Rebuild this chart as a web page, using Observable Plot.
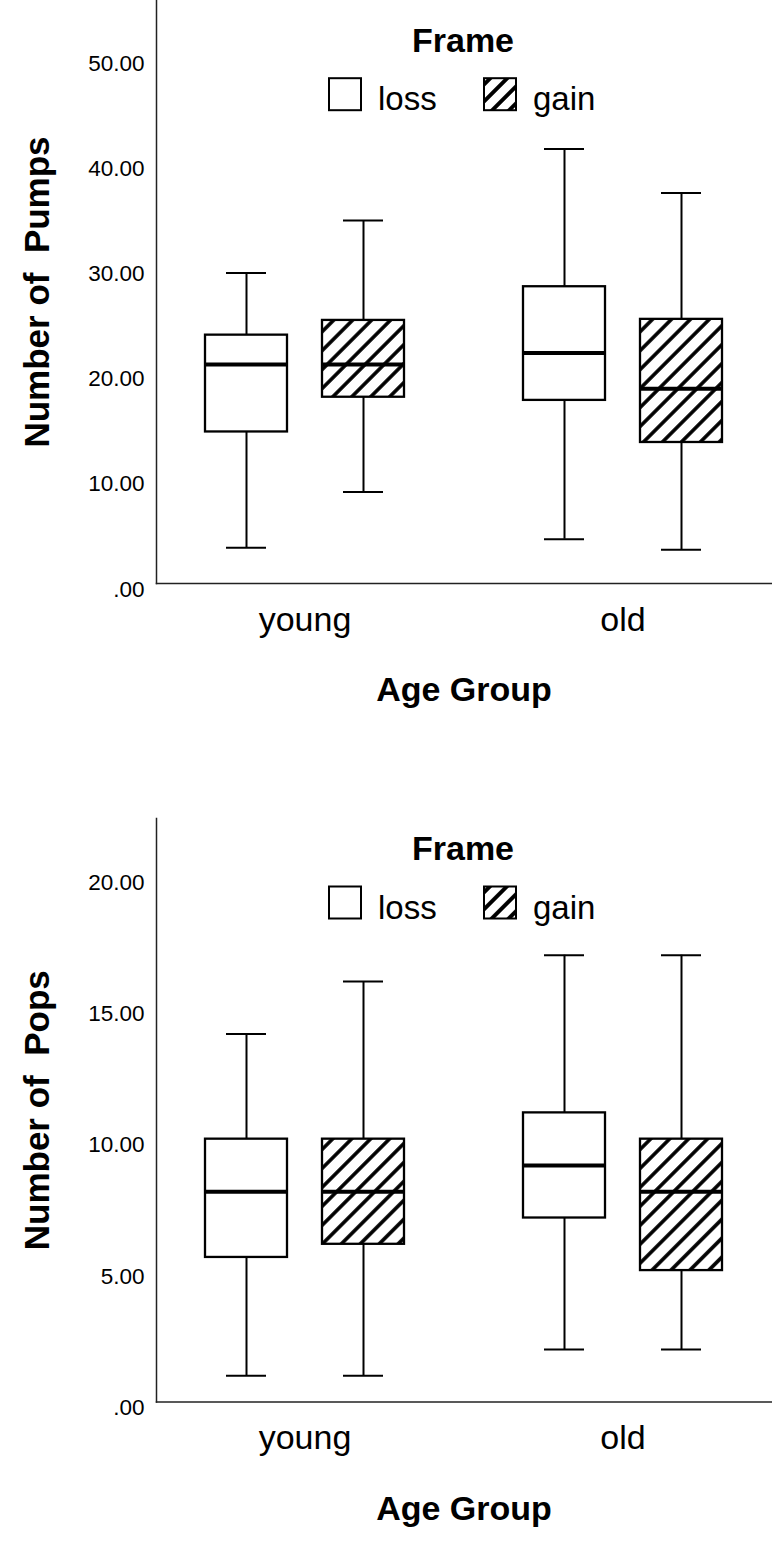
<!DOCTYPE html>
<html>
<head>
<meta charset="utf-8">
<script src="https://cdn.jsdelivr.net/npm/d3@7"></script>
<script src="https://cdn.jsdelivr.net/npm/@observablehq/plot@0.6"></script>
<style>
  body { margin: 0; background: #ffffff; font-family: "Liberation Sans", Arial, sans-serif; }
  .chart { position: relative; width: 772px; }
  .chart svg { display: block; }
  svg text { white-space: pre; }
  .legend { position: absolute; left: 0; top: 0; pointer-events: none; }
</style>
</head>
<body>
<div id="c1" class="chart"></div>
<div id="c2" class="chart"></div>
<script>
// ---------- data ----------
const ageGroups = ["young", "old"];
const frames = ["loss", "gain"];
const boxAge   = ["young", "young", "old", "old"];
const boxFrame = ["loss", "gain", "loss", "gain"];

// Number of Pumps
const pumpsLow    = [3.4, 8.7, 4.2, 3.2];
const pumpsQ1     = [14.4, 17.7, 17.4, 13.4];
const pumpsMedian = [20.8, 20.8, 21.9, 18.5];
const pumpsQ3     = [23.6, 25.0, 28.2, 25.1];
const pumpsHigh   = [29.5, 34.5, 41.3, 37.1];
const pumpsTicks  = [0, 10, 20, 30, 40, 50];

// Number of Pops
const popsLow    = [1, 1, 2, 2];
const popsQ1     = [5.5, 6, 7, 5];
const popsMedian = [8, 8, 9, 8];
const popsQ3     = [10, 10, 11, 10];
const popsHigh   = [14, 16, 17, 17];
const popsTicks  = [0, 5, 10, 15, 20];

const FONT = "'Liberation Sans', Arial, Helvetica, sans-serif";
const NS = "http://www.w3.org/2000/svg";

function rowsOf(low, q1, med, q3, high) {
  return boxAge.map((a, i) => ({age: a, frame: boxFrame[i], low: low[i], q1: q1[i], median: med[i], q3: q3[i], high: high[i]}));
}

function addHatch(svg, id, size, sw) {
  const defs = document.createElementNS(NS, "defs");
  const p = document.createElementNS(NS, "pattern");
  p.setAttribute("id", id);
  p.setAttribute("patternUnits", "userSpaceOnUse");
  p.setAttribute("width", size);
  p.setAttribute("height", size);
  p.setAttribute("patternTransform", "rotate(45)");
  const r = document.createElementNS(NS, "rect");
  r.setAttribute("width", size); r.setAttribute("height", size); r.setAttribute("fill", "white");
  const l = document.createElementNS(NS, "line");
  l.setAttribute("x1", size / 2); l.setAttribute("x2", size / 2);
  l.setAttribute("y1", -1); l.setAttribute("y2", size + 1);
  l.setAttribute("stroke", "black"); l.setAttribute("stroke-width", sw);
  p.appendChild(r); p.appendChild(l); defs.appendChild(p);
  svg.insertBefore(defs, svg.firstChild);
}

function makeChart(el, cfg) {
  const rows = rowsOf(...cfg.stats);
  const hatch = cfg.id + "-hatch";
  const common = {fx: "age", x: "frame"};
  const svg = Plot.plot({
    width: 772,
    height: cfg.height,
    marginLeft: 156,
    marginRight: 0,
    marginTop: cfg.marginTop,
    marginBottom: cfg.marginBottom,
    style: {fontFamily: FONT, background: "white", color: "black", overflow: "visible"},
    fx: {domain: ageGroups, paddingInner: 0.065, paddingOuter: 0},
    x: {domain: frames, paddingInner: 0.30, paddingOuter: 0.41, axis: null},
    y: {domain: [0, cfg.ymax]},
    marks: [
      // whiskers
      Plot.ruleX(rows, {...common, y1: "low", y2: "high", stroke: "black", strokeWidth: 2}),
      Plot.tickY(rows, {...common, y: "low", stroke: "black", strokeWidth: 2, insetLeft: 21, insetRight: 21}),
      Plot.tickY(rows, {...common, y: "high", stroke: "black", strokeWidth: 2, insetLeft: 21, insetRight: 21}),
      // boxes
      Plot.barY(rows.filter(d => d.frame === "loss"), {...common, y1: "q1", y2: "q3", fill: "white", stroke: "black", strokeWidth: 2.3}),
      Plot.barY(rows.filter(d => d.frame === "gain"), {...common, y1: "q1", y2: "q3", fill: `url(#${hatch})`, stroke: "black", strokeWidth: 2.3}),
      // medians
      Plot.tickY(rows, {...common, y: "median", stroke: "black", strokeWidth: 4}),
      // axes
      Plot.frame({anchor: "left", facet: "super", stroke: "#222", strokeWidth: 1.5}),
      Plot.frame({anchor: "bottom", facet: "super", stroke: "#222", strokeWidth: 1.5}),
      Plot.axisY({ticks: cfg.ticks, tickSize: 0, tickPadding: 12, fontSize: 22.5, dy: 6, label: null,
                  tickFormat: d => d === 0 ? ".00" : d.toFixed(2)}),
      Plot.axisFx({anchor: "bottom", tickSize: 0, tickPadding: 23, fontSize: 34, label: null}),
      Plot.text([cfg.ylabel], {frameAnchor: "left", textAnchor: "middle", lineAnchor: "middle", rotate: -90, dx: -119,
                               fontSize: 35, fontWeight: "bold", facet: "super", fill: "black"}),
      Plot.text(["Age Group"], {frameAnchor: "bottom", textAnchor: "middle", lineAnchor: "middle", dy: 107,
                                fontSize: 34, fontWeight: "bold", facet: "super", fill: "black"})
    ]
  });
  addHatch(svg, hatch, 13.4, 3.6);
  el.appendChild(svg);

  // legend (overlaid inside the plot area, like the original)
  const lg = d3.create("svg").attr("class", "legend").attr("width", 772).attr("height", cfg.height)
    .style("font-family", FONT);
  const lp = lg.append("defs").append("pattern").attr("id", cfg.id + "-lhatch")
    .attr("patternUnits", "userSpaceOnUse").attr("width", 12).attr("height", 12)
    .attr("patternTransform", "rotate(45)");
  lp.append("rect").attr("width", 12).attr("height", 12).attr("fill", "white");
  lp.append("line").attr("x1", 6).attr("x2", 6).attr("y1", -1).attr("y2", 13).attr("stroke", "black").attr("stroke-width", 4);
  const t = cfg.legendTop;
  lg.append("text").attr("x", 463).attr("y", t).attr("text-anchor", "middle")
    .attr("font-size", 34).attr("font-weight", "bold").text("Frame");
  const sy = t + 26.5;
  lg.append("rect").attr("x", 329).attr("y", sy).attr("width", 32).attr("height", 32)
    .attr("fill", "white").attr("stroke", "black").attr("stroke-width", 2);
  lg.append("text").attr("x", 378).attr("y", sy + 32).attr("font-size", 33).text(frames[0]);
  lg.append("rect").attr("x", 484).attr("y", sy).attr("width", 32).attr("height", 32)
    .attr("fill", `url(#${cfg.id}-lhatch)`).attr("stroke", "black").attr("stroke-width", 2);
  lg.append("text").attr("x", 533).attr("y", sy + 32).attr("font-size", 33).text(frames[1]);
  el.appendChild(lg.node());
}

makeChart(document.getElementById("c1"), {
  id: "pumps", stats: [pumpsLow, pumpsQ1, pumpsMedian, pumpsQ3, pumpsHigh],
  ticks: pumpsTicks, ymax: 55.4, ylabel: "Number of  Pumps",
  height: 723, marginTop: 0, marginBottom: 140, legendTop: 51.7
});
makeChart(document.getElementById("c2"), {
  id: "pops", stats: [popsLow, popsQ1, popsMedian, popsQ3, popsHigh],
  ticks: popsTicks, ymax: 22.2, ylabel: "Number of  Pops",
  height: 820, marginTop: 95, marginBottom: 141.5, legendTop: 137
});
</script>
</body>
</html>
